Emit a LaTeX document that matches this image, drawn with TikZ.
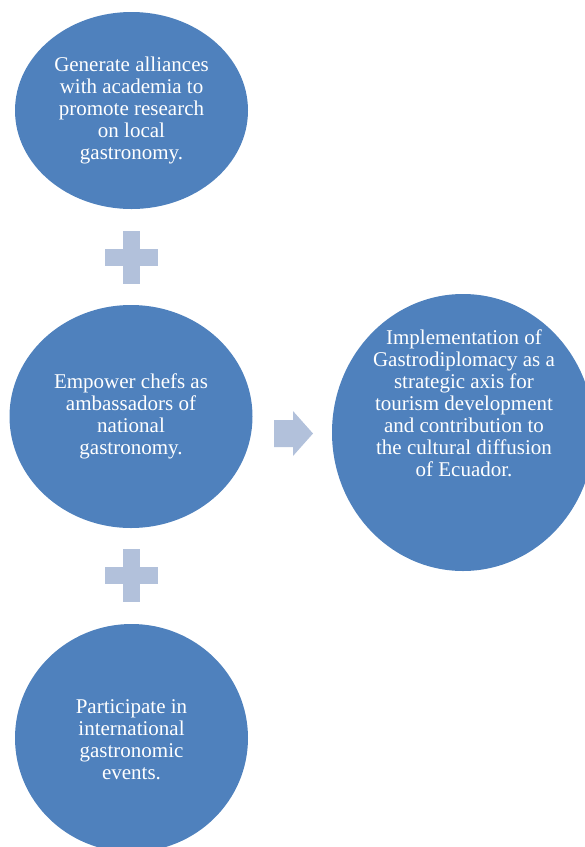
\documentclass[tikz,border=0pt]{standalone}
\usepackage{fontspec}
\setmainfont{Liberation Serif}
\usetikzlibrary{shapes.geometric}
\definecolor{circblue}{HTML}{4F81BD}
\definecolor{lightsym}{HTML}{B2C1DB}
\begin{document}
\begin{tikzpicture}[x=1pt,y=-1pt,
  circ/.style={ellipse, fill=circblue, draw=none, inner sep=0pt},
  lbl/.style={text=white, align=center, font=\fontsize{21}{22}\selectfont, inner sep=0pt},
  sym/.style={fill=lightsym, draw=none}]
\useasboundingbox (0,0) rectangle (585,847);
\clip (0,0) rectangle (585,847);
% circles
\node[circ, minimum width=233pt, minimum height=197pt] (c1) at (131.5,110.5) {};
\node[circ, minimum width=243pt, minimum height=223pt] (c2) at (131,416.5) {};
\node[circ, minimum width=233pt, minimum height=228pt] (c3) at (131.5,738) {};
\node[circ, minimum width=262pt, minimum height=277pt] (c4) at (463,432.5) {};
% labels
\node[lbl] (t1) at (c1.center) {Generate alliances\\with academia to\\promote research\\on local\\gastronomy.};
\node[lbl] (t2) at (c2.center) {Empower chefs as\\ambassadors of\\national\\gastronomy.};
\node[lbl] (t3) at (131.5,740) {Participate in\\international\\gastronomic\\events.};
\node[lbl] (t4) at (464,403) {Implementation of\\Gastrodiplomacy as a\\strategic axis for\\tourism development\\and contribution to\\the cultural diffusion\\of Ecuador.};
% plus signs
\coordinate (p1) at (131.5,257);
\coordinate (p2) at (131.5,575.5);
\foreach \p in {p1,p2}{
  \fill[sym] ([shift={(-26.5,-8.5)}]\p) rectangle ([shift={(26.5,8.5)}]\p);
  \fill[sym] ([shift={(-8.5,-26.5)}]\p) rectangle ([shift={(8.5,26.5)}]\p);
}
% arrow
\coordinate (a) at (274,433.5);
\fill[sym] ([shift={(0,-13.5)}]a) -- ([shift={(19,-13.5)}]a) -- ([shift={(19,-22.5)}]a)
  -- ([shift={(39,0)}]a) -- ([shift={(19,22.5)}]a) -- ([shift={(19,13.5)}]a)
  -- ([shift={(0,13.5)}]a) -- cycle;
\end{tikzpicture}
\end{document}
